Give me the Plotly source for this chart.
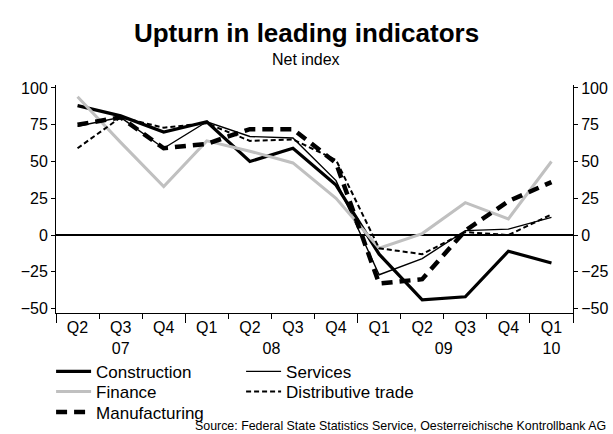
import plotly.graph_objects as go

quarters = ["Q2", "Q3", "Q4", "Q1", "Q2", "Q3", "Q4", "Q1", "Q2", "Q3", "Q4", "Q1"]
period_year = ["07", "07", "07", "08", "08", "08", "08", "09", "09", "09", "09", "10"]

construction = [88, 81, 70, 77, 50, 59, 34, -13, -44, -42, -11, -19]
services = [74, 80, 59, 77, 67, 66, 37, -27, -16, 3, 4, 12]
finance = [94, 63, 33, 64, 57, 49, 25, -9, 1, 22, 11, 50]
distributive = [59, 80, 73, 76, 64, 65, 51, -9, -13, 2, 0, 14]
manufacturing = [75, 80, 59, 62, 72, 72, 49, -33, -30, 3, 23, 36]

y_ticks = [-50, -25, 0, 25, 50, 75, 100]

FONT = "Liberation Sans, Arial, sans-serif"
n = len(quarters)
xs = list(range(n))

# tick label text: quarter on first line, year (centred on its group) on second line
years = []
for y in period_year:
    if y not in years:
        years.append(y)
year_centres = {y: sum(i for i in xs if period_year[i] == y) / period_year.count(y) for y in years}
labels = {i: quarters[i] for i in xs}
for y, c in year_centres.items():
    if c in labels:
        labels[c] = labels[c] + "<br>" + y
    else:
        labels[c] = "<br>" + y
tv = sorted(labels)
tt = [labels[v] for v in tv]
year_bounds = [-0.5] + [i - 0.5 for i in xs[1:] if period_year[i] != period_year[i - 1]] + [n - 0.5]

fig = go.Figure()
series = [
    ("Construction", construction, dict(color="black", width=3.2), "legend"),
    ("Services", services, dict(color="black", width=1.4), "legend"),
    ("Finance", finance, dict(color="#c0c0c0", width=3), "legend2"),
    ("Distributive trade", distributive, dict(color="black", width=2, dash="5px,3px"), "legend2"),
    ("Manufacturing", manufacturing, dict(color="black", width=4.5, dash="11px,7px"), "legend3"),
]
for name, vals, line, lg in series:
    fig.add_trace(go.Scatter(x=xs, y=vals, name=name, mode="lines", line=line, legend=lg))

fig.add_trace(go.Scatter(x=[], y=[], xaxis="x2", yaxis="y2", showlegend=False, hoverinfo="skip"))

yr = [-53, 102]
xr = [-0.5, n - 0.5]


def leg(ypos):
    return dict(
        orientation="h", x=-0.0095, xanchor="left", y=ypos, yanchor="middle",
        entrywidth=140, entrywidthmode="pixels", itemwidth=35,
        font=dict(size=17, family=FONT, color="black"), bgcolor="rgba(0,0,0,0)",
        traceorder="normal",
    )


fig.update_layout(
    width=613, height=434,
    margin=dict(l=56, r=40, t=85, b=121, autoexpand=False),
    paper_bgcolor="white", plot_bgcolor="white",
    font=dict(family=FONT, size=16, color="black"),
    title=dict(
        text="<b>Upturn in leading indicators</b>",
        x=0.5, xanchor="center", xref="container", y=0.925, yanchor="middle",
        font=dict(size=26, family=FONT, color="black"),
    ),
    showlegend=True,
    legend=leg(-0.258),
    legend2=leg(-0.346),
    legend3=leg(-0.436),
    xaxis=dict(
        range=xr, tickmode="array", tickvals=tv, ticktext=tt, ticks="", tickangle=0,
        showline=True, linecolor="black", linewidth=1, showgrid=False, zeroline=False,
        tickfont=dict(size=16), ticklabelstandoff=0,
        minor=dict(tickmode="linear", tick0=-0.5, dtick=1, ticks="outside", ticklen=5,
                   tickcolor="black", showgrid=False),
    ),
    xaxis2=dict(
        range=xr, overlaying="x", anchor="y2", side="bottom", tickmode="array",
        tickvals=year_bounds, ticktext=["" for _ in year_bounds], ticks="outside", ticklen=9,
        tickcolor="black", showline=False, showgrid=False, zeroline=False,
    ),
    yaxis=dict(
        range=yr, tickmode="array", tickvals=y_ticks, ticks="outside", ticklen=4,
        tickcolor="black", showline=True, linecolor="black", linewidth=1, showgrid=False,
        zeroline=True, zerolinecolor="black", zerolinewidth=1.5, tickfont=dict(size=16),
    ),
    yaxis2=dict(
        range=yr, overlaying="y", anchor="x2", side="right", tickmode="array",
        tickvals=y_ticks, ticks="outside", ticklen=4, tickcolor="black", showline=True,
        linecolor="black", linewidth=1, showgrid=False, zeroline=False, tickfont=dict(size=16),
    ),
    annotations=[
        dict(
            text="Net index", xref="paper", yref="paper", x=0.4845, y=1.11,
            xanchor="center", yanchor="middle", showarrow=False,
            font=dict(size=16, family=FONT),
        ),
        dict(
            text="Source: Federal State Statistics Service, Oesterreichische Kontrollbank AG",
            xref="paper", yref="paper", x=1.067, y=-0.497, xanchor="right", yanchor="middle",
            showarrow=False, font=dict(size=12.4, family=FONT),
        ),
    ],
)
fig.write_html("out.html", config={"displayModeBar": False},
               post_script="document.body.style.margin='0';")
